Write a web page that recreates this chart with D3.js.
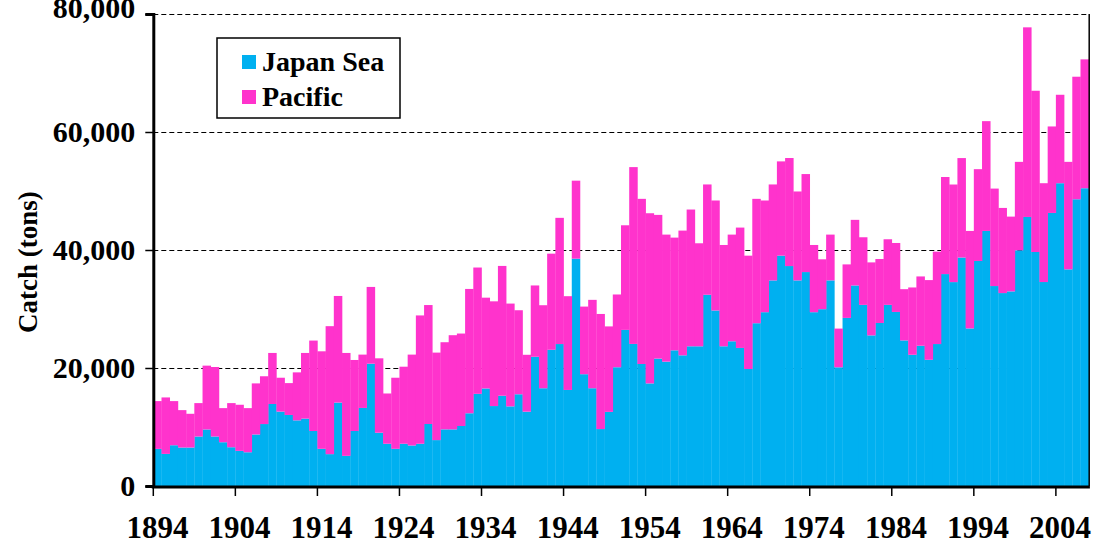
<!DOCTYPE html>
<html>
<head>
<meta charset="utf-8">
<script src="https://d3js.org/d3.v7.min.js"></script>
<style>
  body { margin: 0; background: #fff; }
  svg text { font-family: "Liberation Serif", "Times New Roman", serif; font-weight: bold; fill: #000; }
</style>
</head>
<body>
<div id="chart"></div>
<script>
// years on the category axis
var years = d3.range(1894, 2008)

// catch (tons)
var japanSea = [
  6290,5440,6910,6520,6520,8390,9580,8390,7420,6570,
  5950,5720,8730,10500,13900,12610,12040,11130,11420,9320,
  6300,5400,14140,5110,9320,13230,20730,9030,7160,6300,
  7160,6870,7160,10510,7780,9600,9600,10170,12330,15620,
  16530,13550,15300,13500,15550,12600,21900,16570,23090,24060,
  16280,38530,18950,16570,9650,12560,20130,26460,24080,20680,
  17390,21590,21080,23000,22150,23680,23680,32410,29750,23680,
  24530,23400,19830,27590,29460,34850,39040,37280,34850,36260,
  29460,29970,34850,20120,28490,33990,30700,25530,27630,30700,
  29500,24680,22240,23770,21390,24060,35920,34560,38720,26710,
  38140,43230,33890,32700,32990,39950,45600,39660,34570,46280,
  51320,36720,48600,50470
]
var pacific = [
  8100,9570,7480,6340,5720,5660,10820,11780,5780,7480,
  7820,7480,8660,8100,8650,5740,5400,8130,11130,15330,
  16530,21690,18070,17440,12040,9040,13010,12610,8520,12050,
  13060,15400,21750,20160,14830,14770,15960,15670,21070,21410,
  15390,17750,22000,17420,14240,9640,12090,14070,16290,21390,
  15890,13220,11460,14980,19510,14490,12330,17730,29970,27990,
  28840,24360,21530,19100,21140,23180,17460,18700,18640,17170,
  18080,20400,19210,21080,18930,16260,15980,18310,15070,16610,
  11390,8450,7760,6560,9070,11120,11460,12370,10840,11120,
  11690,8680,11410,11750,13510,15660,16450,16540,16860,16520,
  15560,18610,16520,14430,12670,14990,32140,27330,16750,14660,
  14990,18220,20770,21840
]
var seriesNames = ["Japan Sea", "Pacific"]
var yTicks = [0, 20000, 40000, 60000, 80000]

var colours = { "Japan Sea": "#00b0f0", "Pacific": "#ff33cc" }

var width = 1110, height = 542
var plotLeft = 153.3, plotRight = 1088.7, plotTop = 14, plotBottom = 486

var svg = d3.select("#chart").append("svg")
  .attr("width", width)
  .attr("height", height)

var rows = years.map(function (yr, i) {
  return { year: yr, "Japan Sea": japanSea[i], "Pacific": pacific[i] }
})
var stacked = d3.stack().keys(seriesNames)(rows)

var x = d3.scaleBand().domain(years).range([plotLeft, plotRight]).padding(0)
var y = d3.scaleLinear().domain([0, 80000]).range([plotBottom, plotTop])

// dashed gridlines (half pixel so they stay crisp and dark)
svg.append("g").selectAll("line")
  .data(yTicks.filter(function (d) { return d > 0 }))
  .enter().append("line")
  .attr("x1", plotLeft).attr("x2", plotRight)
  .attr("y1", function (d) { return Math.round(y(d)) + 0.5 })
  .attr("y2", function (d) { return Math.round(y(d)) + 0.5 })
  .attr("stroke", "#000")
  .attr("stroke-width", 1)
  .attr("stroke-dasharray", "5,3")

// bars
svg.append("g").selectAll("g")
  .data(stacked)
  .enter().append("g")
  .attr("fill", function (s) { return colours[s.key] })
  .selectAll("rect")
  .data(function (s) { return s })
  .enter().append("rect")
  .attr("x", function (d) { return x(d.data.year) })
  .attr("width", x.bandwidth() + 0.3)
  .attr("y", function (d) { return y(d[1]) })
  .attr("height", function (d) { return y(d[0]) - y(d[1]) })

// frame right side
svg.append("line")
  .attr("x1", plotRight + 0.5).attr("x2", plotRight + 0.5).attr("y1", plotTop).attr("y2", plotBottom)
  .attr("stroke", "#000").attr("stroke-width", 1.5)

// y axis
var yAxis = svg.append("g")
  .attr("transform", "translate(" + plotLeft + ",0)")
  .call(d3.axisLeft(y).tickValues(yTicks).tickFormat(d3.format(",")).tickSize(8).tickPadding(10))
yAxis.select(".domain").attr("stroke-width", 3)
yAxis.selectAll(".tick line").attr("stroke-width", 1.5)
yAxis.selectAll("text").style("font-size", "30px").style("font-family", "Liberation Serif").style("font-weight", "bold")
// top label sits partly above the picture edge, as in the source
yAxis.selectAll(".tick").filter(function (d) { return d === 80000 })
  .select("text").attr("dy", "0.32em").attr("y", -6)

// x axis: ticks every 10 categories
var tickYears = years.filter(function (d, i) { return i % 10 === 0 })
svg.append("line")
  .attr("x1", plotLeft - 1.5).attr("x2", plotRight + 1.2)
  .attr("y1", plotBottom + 1).attr("y2", plotBottom + 1)
  .attr("stroke", "#000").attr("stroke-width", 3)
svg.append("g").selectAll("line")
  .data(tickYears)
  .enter().append("line")
  .attr("x1", function (d) { return x(d) })
  .attr("x2", function (d) { return x(d) })
  .attr("y1", plotBottom + 1).attr("y2", plotBottom + 10)
  .attr("stroke", "#000").attr("stroke-width", 1.5)
svg.append("g").selectAll("text")
  .data(tickYears)
  .enter().append("text")
  .attr("x", function (d) { return x(d) + x.bandwidth() / 2 })
  .attr("y", 538)
  .attr("text-anchor", "middle")
  .style("font-size", "31px")
  .text(function (d) { return d })

// axis title
svg.append("text")
  .attr("transform", "translate(37,262) rotate(-90)")
  .attr("text-anchor", "middle")
  .style("font-size", "27px")
  .text("Catch (tons)")

// legend
var legend = svg.append("g")
legend.append("rect")
  .attr("x", 217).attr("y", 38).attr("width", 183).attr("height", 80)
  .attr("fill", "#fff").attr("stroke", "#000").attr("stroke-width", 1.5)
var items = legend.selectAll("g.item")
  .data(seriesNames)
  .enter().append("g")
  .attr("class", "item")
  .attr("transform", function (d, i) { return "translate(242," + (55 + i * 35) + ")" })
items.append("rect")
  .attr("width", 14).attr("height", 14)
  .attr("fill", function (d) { return colours[d] })
items.append("text")
  .attr("x", 20).attr("y", 16)
  .style("font-size", "28px")
  .text(function (d) { return d })
</script>
</body>
</html>
